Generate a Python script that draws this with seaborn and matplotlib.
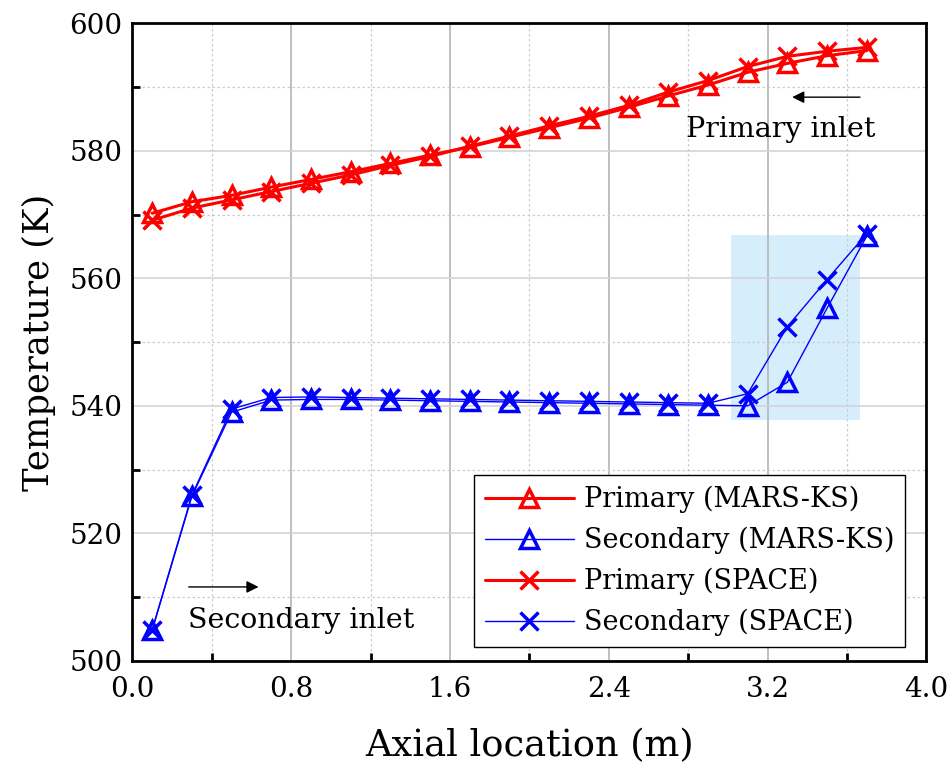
import numpy as np
import pandas as pd
import matplotlib
matplotlib.use("Agg")
import matplotlib.pyplot as plt
import seaborn as sns
from matplotlib.patches import Rectangle
from matplotlib.ticker import MultipleLocator

# data
axial = [0.1, 0.3, 0.5, 0.7, 0.9, 1.1, 1.3, 1.5, 1.7, 1.9,
         2.1, 2.3, 2.5, 2.7, 2.9, 3.1, 3.3, 3.5, 3.7]
primary_mars = [570.2, 572.0, 573.0, 574.3, 575.5, 576.7, 578.0, 579.3, 580.6, 582.1,
                583.6, 585.1, 586.8, 588.6, 590.3, 592.3, 593.7, 594.9, 595.7]
primary_space = [569.1, 571.0, 572.3, 573.6, 574.9, 576.2, 577.7, 579.1, 580.7, 582.3,
                 583.9, 585.4, 587.1, 589.2, 591.0, 593.2, 594.8, 595.6, 596.2]
secondary_mars = [504.8, 525.8, 539.0, 540.9, 541.0, 541.0, 540.9, 540.8, 540.7, 540.6,
                  540.5, 540.4, 540.3, 540.2, 540.1, 540.0, 543.7, 555.3, 566.6]
secondary_space = [504.9, 526.0, 539.5, 541.3, 541.4, 541.3, 541.2, 541.1, 541.0, 540.9,
                   540.8, 540.7, 540.6, 540.5, 540.4, 541.9, 552.4, 559.8, 567.0]
x_ticks = [0.0, 0.8, 1.6, 2.4, 3.2, 4.0]

sns.set_style("white")
plt.rcParams['font.family'] = ['DejaVu Serif']
plt.rcParams['text.color'] = 'black'
plt.rcParams['xtick.color'] = 'black'
plt.rcParams['ytick.color'] = 'black'
plt.rcParams['axes.labelcolor'] = 'black'

fig, ax = plt.subplots(figsize=(9.52, 7.73), dpi=100)
fig.subplots_adjust(left=0.139, right=0.973, top=0.970, bottom=0.145)

series = [
    ("Primary (MARS-KS)", primary_mars, "red", "^", 2.2),
    ("Secondary (MARS-KS)", secondary_mars, "blue", "^", 1.0),
    ("Primary (SPACE)", primary_space, "red", "x", 2.2),
    ("Secondary (SPACE)", secondary_space, "blue", "x", 1.0),
]
for label, vals, col, mk, lw in series:
    sns.lineplot(x=axial, y=vals, ax=ax, color=col, lw=lw, marker=mk,
                 markersize=13, markeredgewidth=2.5, markeredgecolor=col,
                 markerfacecolor="none", label=label, zorder=3)

# highlighted region
ax.add_patch(Rectangle((3.016, 537.8), 0.651, 29.0, facecolor="#d6edfb",
                       edgecolor="none", zorder=0.2))

ax.set_xticks(x_ticks)
ax.set_xticklabels([f"{v:.1f}" for v in x_ticks])
ax.xaxis.set_minor_locator(MultipleLocator(0.4))
ax.yaxis.set_major_locator(MultipleLocator(20))
ax.yaxis.set_minor_locator(MultipleLocator(10))
ax.set_xlim(0, 4.0)
ax.set_ylim(500, 600)

ax.set_axisbelow(True)
ax.grid(which="major", axis="x", color="#b4b4b4", lw=1.2, ls="-")
ax.grid(which="major", axis="y", color="#d4d4d4", lw=1.2, ls="-")
ax.grid(which="minor", color="#cccccc", lw=0.9, ls=(0, (2, 2)))

ax.tick_params(which="major", direction="in", length=11, width=2,
               labelsize=20, top=False, right=False)
ax.tick_params(axis="x", pad=11)
ax.tick_params(axis="y", pad=7)
ax.tick_params(which="minor", direction="in", length=6, width=2,
               top=False, right=False, left=True, bottom=True)
for s in ax.spines.values():
    s.set_linewidth(2)
    s.set_color("black")

ax.set_xlabel("Axial location (m)", fontsize=26.5, labelpad=18)
ax.set_ylabel("Temperature (K)", fontsize=25.5, labelpad=10)

ax.annotate("", xy=(3.31, 588.4), xytext=(3.68, 588.4),
            arrowprops=dict(arrowstyle="-|>", color="black", lw=1, mutation_scale=18))
ax.text(2.79, 583.3, "Primary inlet", fontsize=20.5, va="center", ha="left")
ax.annotate("", xy=(0.65, 511.6), xytext=(0.27, 511.6),
            arrowprops=dict(arrowstyle="-|>", color="black", lw=1, mutation_scale=18))
ax.text(0.28, 506.4, "Secondary inlet", fontsize=20.5, va="center", ha="left")

leg = ax.legend(loc="lower right", fontsize=19.5, frameon=True, fancybox=False,
                edgecolor="black", framealpha=1, handlelength=3.3,
                borderpad=0.4, labelspacing=0.5, handletextpad=0.37,
                borderaxespad=0, bbox_to_anchor=(0.9735, 0.022))
leg.get_frame().set_linewidth(1)

fig.savefig("out.png", dpi=100)
